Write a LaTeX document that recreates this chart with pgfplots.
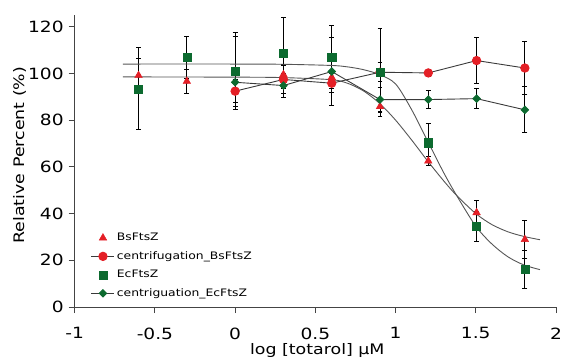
\documentclass[border=0pt]{standalone}
\usepackage{fontspec}
\setmainfont{DejaVu Sans}[FakeStretch=1.2]
\usepackage{pgfplots}
\pgfplotsset{compat=1.18}
\usepackage{pgfplotstable}
\definecolor{myred}{HTML}{E41F26}
\definecolor{mygreen}{HTML}{0C6A2F}
\definecolor{fitgray}{HTML}{555555}
\definecolor{linegray}{HTML}{3A3A3A}
\definecolor{axgray}{HTML}{444444}

\pgfplotstableread{
x y e
-0.602 99.1 7.5
-0.301 96.6 5.0
0 100.9 16.5
0.301 99.5 4.5
0.602 98.3 3
0.903 85.8 2.5
1.204 62.5 2
1.505 40.4 5
1.806 28.9 8.2
}\bsdata

\pgfplotstableread{
x y e
0 92.4 5
0.301 97.4 6
0.602 95.8 4
0.903 100.5 4
1.204 100.2 1.5
1.505 105.5 9.7
1.806 102.3 11.4
}\cbsdata

\pgfplotstableread{
x y e
-0.602 93.4 17.5
-0.301 106.9 9
0 100.9 15
0.301 108.7 15.3
0.602 106.9 13.5
0.903 100.5 18.8
1.204 70.3 8.4
1.505 34.6 6.4
1.806 16.2 8.2
}\ecdata

\pgfplotstableread{
x y e
0 96.2 3
0.301 94.8 5
0.602 100.8 14.7
0.903 88.8 5
1.204 88.8 3.8
1.505 89.2 4.3
1.806 84.4 9.8
}\cecdata

\pgfplotstableread{
x y
-0.7 98.5
0 98.4
0.3 98.2
0.6 97.3
0.7 95.8
0.8 92.5
0.9 87.2
1.0 80
1.1 71.5
1.2 62.5
1.3 54
1.38 47.8
1.5 40
1.6 35.3
1.7 32.2
1.8 30.2
1.9 28.8
}\bsfit

\pgfplotstableread{
x y
-0.7 104
0 104
0.3 103.9
0.6 103.4
0.7 102.8
0.8 101.6
0.9 99.5
1.0 95.5
1.1 84.5
1.2 71
1.3 57.5
1.38 47.8
1.5 34.6
1.6 27
1.7 21.5
1.8 18
1.9 16
}\ecfit

\begin{document}
\begin{tikzpicture}
\begin{axis}[
  scale only axis, width=481.3pt, height=292pt,
  xmin=-1, xmax=2, ymin=0, ymax=125,
  axis x line=bottom, axis y line=left,
  axis line style={-, draw=axgray, line width=0.9pt},
  tick align=outside, major tick length=6pt,
  tick style={draw=axgray, line width=0.9pt},
  xtick={-1,-0.5,0,0.5,1,1.5,2},
  xticklabels={-1,-0.5,0,0.5,1,1.5,2},
  ytick={0,20,40,60,80,100,120},
  /pgf/number format/assume math mode=true,
  ticklabel style={font=\fontsize{15.5}{18}\selectfont},
  xticklabel style={yshift=-11pt},
  yticklabel style={xshift=-1.5pt},
  label style={font=\fontsize{14.5}{17}\selectfont},
  xlabel={log [totarol] µM},
  ylabel={Relative Percent (\%)},
  xlabel style={at={(axis description cs:0.504,-0.162)}, anchor=base},
  ylabel style={at={(axis description cs:-0.093,0.52)}, anchor=south},
  legend cell align=left,
  legend style={at={(axis cs:-0.912,33.3)}, anchor=north west, draw=none, fill=none,
    font=\fontsize{10.3}{12}\selectfont, row sep=5.3pt, inner sep=2pt},
  legend image code/.code={\draw[mark repeat=2,mark phase=2] plot coordinates {(0pt,0pt)(11.5pt,0pt)(23pt,0pt)};},
  clip=false,
]
\coordinate (O) at (rel axis cs:0,0);
% error bars
\addplot[forget plot, only marks, mark=none, error bars/.cd, y dir=both, y explicit,
  error bar style={draw=black, line width=0.9pt},
  error mark options={draw=black, line width=0.9pt, mark size=2.4pt, rotate=90}]
  table[x=x, y=y, y error=e] {\ecdata};
\addplot[forget plot, only marks, mark=none, error bars/.cd, y dir=both, y explicit,
  error bar style={draw=black, line width=0.9pt},
  error mark options={draw=black, line width=0.9pt, mark size=2.4pt, rotate=90}]
  table[x=x, y=y, y error=e] {\bsdata};
\addplot[forget plot, only marks, mark=none, error bars/.cd, y dir=both, y explicit,
  error bar style={draw=black, line width=0.9pt},
  error mark options={draw=black, line width=0.9pt, mark size=2.4pt, rotate=90}]
  table[x=x, y=y, y error=e] {\cbsdata};
\addplot[forget plot, only marks, mark=none, error bars/.cd, y dir=both, y explicit,
  error bar style={draw=black, line width=0.9pt},
  error mark options={draw=black, line width=0.9pt, mark size=2.4pt, rotate=90}]
  table[x=x, y=y, y error=e] {\cecdata};
% fits
\addplot[forget plot, fitgray, line width=0.9pt, smooth, tension=0.5, mark=none] table[x=x,y=y] {\bsfit};
\addplot[forget plot, fitgray, line width=0.9pt, smooth, tension=0.5, mark=none] table[x=x,y=y] {\ecfit};
% series
\addplot[only marks, mark=triangle*, mark size=4.4pt, color=myred, fill=myred] table[x=x,y=y] {\bsdata};
\addlegendentry{BsFtsZ}
\addplot[draw=linegray, line width=0.9pt, mark=*, mark size=4.2pt, mark options={solid, draw=myred, fill=myred}] table[x=x,y=y] {\cbsdata};
\addlegendentry{centrifugation\_BsFtsZ}
\addplot[only marks, mark=square*, mark size=4.1pt, color=mygreen, fill=mygreen] table[x=x,y=y] {\ecdata};
\addlegendentry{EcFtsZ}
\addplot[draw=linegray, line width=0.9pt, mark=square*, mark size=2.6pt, mark options={solid, rotate=45, draw=mygreen, fill=mygreen}] table[x=x,y=y] {\cecdata};
\addlegendentry{centriguation\_EcFtsZ}
\end{axis}
\pgfresetboundingbox
\useasboundingbox (O) ++(-74.7pt,-52pt) rectangle ++(561pt,359pt);
\end{tikzpicture}
\end{document}
